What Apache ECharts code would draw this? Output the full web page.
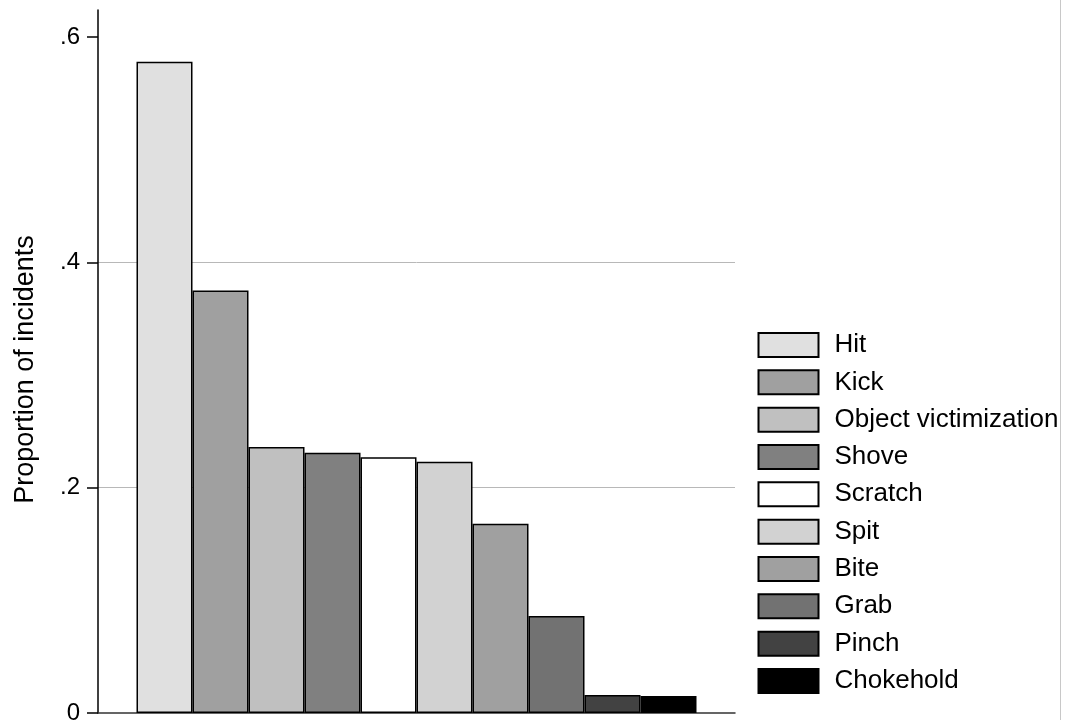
<!DOCTYPE html>
<html><head><meta charset="utf-8">
<script src="https://cdn.jsdelivr.net/npm/echarts@6/dist/echarts.min.js"></script>
<style>html,body{margin:0;padding:0;background:#fff}#c{width:1065px;height:725px}</style>
</head><body><div id="c"></div>
<script>
const categories = ['Hit','Kick','Object victimization','Shove','Scratch','Spit','Bite','Grab','Pinch','Chokehold'];
const values = [0.578, 0.375, 0.236, 0.231, 0.227, 0.223, 0.168, 0.086, 0.016, 0.015];
const colors = ['#e0e0e0','#a0a0a0','#c0c0c0','#808080','#ffffff','#d2d2d2','#a0a0a0','#727272','#424242','#000000'];
const yTicks = [0, 0.2, 0.4, 0.6];
const yTickLabels = ['0', '.2', '.4', '.6'];
const yTitle = 'Proportion of incidents';
const FONT = '"Liberation Sans", Arial, sans-serif';

const chart = echarts.init(document.getElementById('c'), null, {renderer:'canvas'});
const series = categories.map((name, i) => ({
  name: name,
  type: 'bar',
  data: [values[i]],
  barWidth: 56,
  barGap: '0%',
  itemStyle: {color: colors[i], borderColor: '#000', borderWidth: 1.5},
  emphasis: {disabled: true},
  animation: false
}));
chart.setOption({
  animation: false,
  textStyle: {fontFamily: FONT},
  grid: {left: 98, right: 330, top: 10, bottom: 11, containLabel: false},
  xAxis: {
    type: 'category', data: [''],
    axisLine: {show: true, lineStyle: {color: '#333', width: 1.5}},
    axisTick: {show: false}, axisLabel: {show: false}, splitLine: {show: false}
  },
  yAxis: {
    type: 'value', min: 0, max: 0.624, interval: 0.2,
    name: yTitle, nameLocation: 'middle', nameGap: 59, nameRotate: 90,
    nameTextStyle: {fontSize: 27, color: '#000', fontFamily: FONT, padding: [0, 16, 0, 0]},
    axisLine: {show: true, lineStyle: {color: '#000', width: 1.5}},
    axisTick: {show: true, length: 11, lineStyle: {color: '#000', width: 1.5}, customValues: yTicks},
    axisLabel: {fontSize: 24, color: '#000', margin: 18, fontFamily: FONT, customValues: yTicks,
      formatter: v => { const k = yTicks.findIndex(t => Math.abs(t - v) < 1e-9); return k >= 0 ? yTickLabels[k] : ''; }},
    splitLine: {show: true, showMinLine: false, showMaxLine: false, lineStyle: {color: '#b8b8b8', width: 1}}
  },
  legend: {
    orient: 'vertical', left: 757.5, top: 332, padding: 0,
    itemWidth: 60, itemHeight: 24, itemGap: 11.33,
    icon: 'rect',
    textStyle: {fontSize: 26, color: '#000', fontFamily: FONT, padding: [0, 0, 0, 11]},
    data: categories
  },
  graphic: [{type: 'line', shape: {x1: 1060.5, y1: 0, x2: 1060.5, y2: 720}, style: {stroke: '#c8c8c8', lineWidth: 1}}],
  series: series
});
</script></body></html>
